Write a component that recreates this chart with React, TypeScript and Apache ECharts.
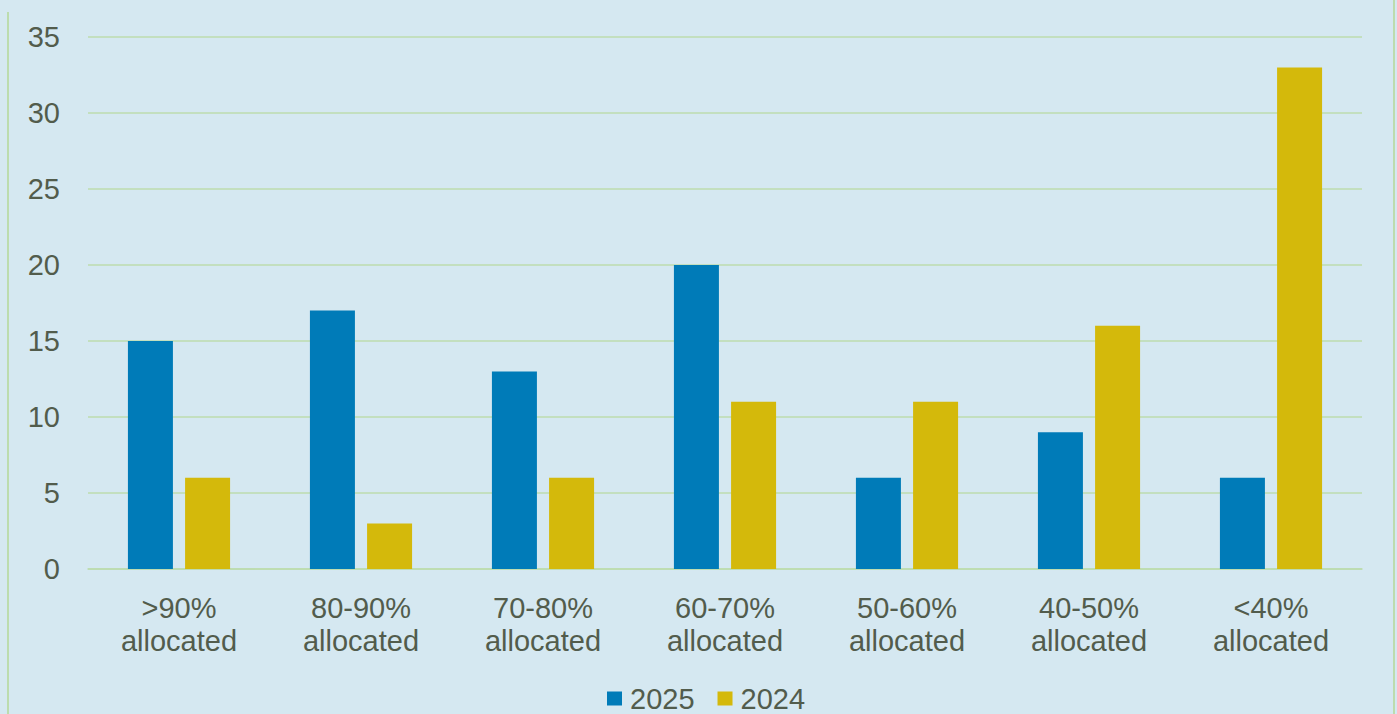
import React, { useEffect, useRef } from "react";
import * as echarts from "echarts";

const categories = [">90%\nallocated", "80-90%\nallocated", "70-80%\nallocated", "60-70%\nallocated", "50-60%\nallocated", "40-50%\nallocated", "<40%\nallocated"];
const values2025 = [15, 17, 13, 20, 6, 9, 6];
const values2024 = [6, 3, 6, 11, 11, 16, 33];
const seriesNames = ["2025", "2024"];

export default function App() {
  const ref = useRef<HTMLDivElement>(null);
  useEffect(() => {
    const chart = echarts.init(ref.current!, null, { renderer: "svg" });
    const textColor = "#525c4c";
    const gridColor = "#bcdcae";
    chart.setOption({
      animation: false,
      backgroundColor: "#d5e8f1",
      textStyle: { fontFamily: "Liberation Sans, Arial, sans-serif" },
      grid: { left: 88, right: 35, top: 37, bottom: 145 },
      legend: {
        data: seriesNames,
        top: 679,
        left: 602,
        itemWidth: 15,
        itemHeight: 14,
        itemGap: 23,
        icon: "rect",
        textStyle: { fontSize: 29, color: textColor, padding: [0, 0, 0, 3] },
      },
      xAxis: {
        type: "category",
        data: categories,
        axisLine: { show: true, lineStyle: { color: gridColor, width: 1.5 } },
        axisTick: { show: false },
        axisLabel: { fontSize: 29, color: textColor, lineHeight: 33, margin: 22 },
      },
      yAxis: {
        type: "value",
        min: 0,
        max: 35,
        interval: 5,
        axisLine: { show: false },
        axisTick: { show: false },
        axisLabel: { fontSize: 29, color: textColor, margin: 28 },
        splitLine: { lineStyle: { color: gridColor, width: 1.5 } },
      },
      graphic: [
        { type: "line", shape: { x1: 8, y1: 12, x2: 8, y2: 714 }, style: { stroke: gridColor, lineWidth: 2 } },
        { type: "line", shape: { x1: 1394, y1: 0, x2: 1394, y2: 714 }, style: { stroke: gridColor, lineWidth: 2 } },
      ],
      series: [
        { name: seriesNames[0], type: "bar", data: values2025, barWidth: 45, barGap: "27%", itemStyle: { color: "#007bb8" } },
        { name: seriesNames[1], type: "bar", data: values2024, barWidth: 45, itemStyle: { color: "#d4b90b" } },
      ],
    });
    return () => chart.dispose();
  }, []);
  return <div ref={ref} style={{ width: 1397, height: 714, position: "absolute", left: 0, top: 0 }} />;
}
